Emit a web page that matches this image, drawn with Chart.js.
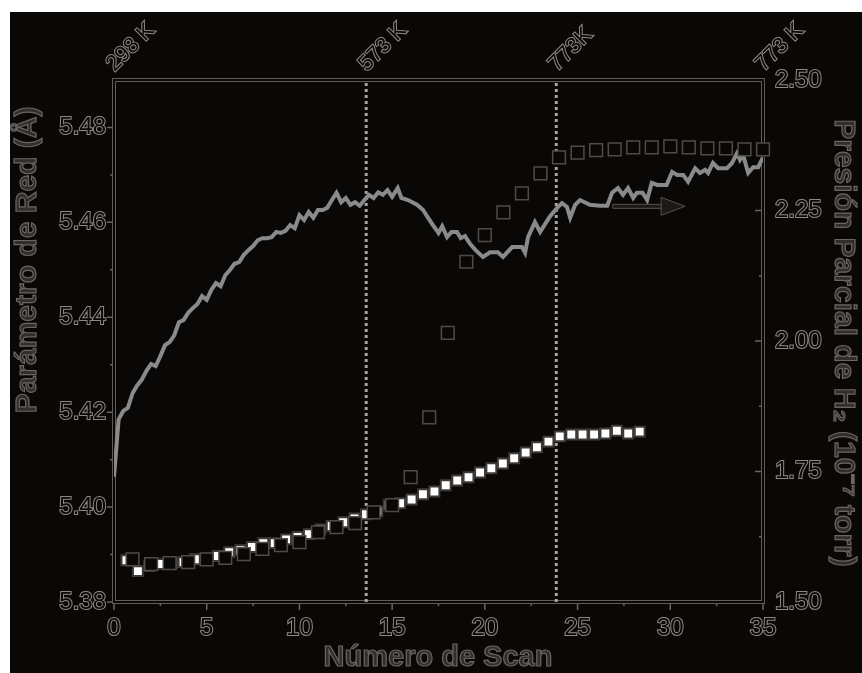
<!DOCTYPE html>
<html>
<head>
<meta charset="utf-8">
<script src="https://cdn.jsdelivr.net/npm/chart.js@4/dist/chart.umd.min.js"></script>
<style>
  html, body { margin: 0; padding: 0; background: #ffffff; }
  #marco { position: absolute; left: 10px; top: 12px; width: 852px; height: 661px; background: #0a0806; }
  #grafico { display: block; }
</style>
</head>
<body>
<div id="marco"><canvas id="grafico" width="852" height="661"></canvas></div>
<script>
// presión parcial de H2 (eje derecho), registro continuo
const scanLinea = [0, 0.25, 0.5, 0.75, 1, 1.25, 1.5, 1.75, 2, 2.25, 2.5, 2.75, 3, 3.25, 3.5, 3.75, 4, 4.25, 4.5, 4.75,
  5, 5.25, 5.5, 5.75, 6, 6.25, 6.5, 6.75, 7, 7.25, 7.5, 7.75, 8, 8.25, 8.5, 8.75, 9, 9.25, 9.5, 9.75,
  10, 10.25, 10.5, 10.75, 11, 11.25, 11.5, 11.75, 12, 12.25, 12.5, 12.75, 13, 13.25, 13.5, 13.75, 14, 14.25, 14.5, 14.75,
  15, 15.3, 15.5, 15.86, 16.34, 16.67, 16.94, 17.2, 17.5, 17.7, 17.96, 18.2, 18.5, 18.7, 18.93, 19.2, 19.5, 19.9,
  20.28, 20.7, 20.98, 21.47, 22.0, 22.17, 22.33, 22.7, 22.98, 23.5, 23.9, 24.16, 24.43, 24.6, 24.87, 25.13, 25.67,
  26.2, 26.6, 26.86, 27.18, 27.45, 27.72, 28.0, 28.2, 28.5, 28.75, 29.0, 29.3, 29.8, 30.1, 30.37, 30.7, 30.96,
  31.34, 31.6, 31.88, 32.04, 32.3, 32.58, 33.06, 33.33, 33.6, 33.76, 33.93, 34.2, 34.47, 34.74, 35];
const presionH2 = [1.740, 1.850, 1.866, 1.872, 1.900, 1.915, 1.926, 1.943, 1.956, 1.952, 1.971, 1.992, 1.998, 2.011, 2.036, 2.040, 2.054, 2.063, 2.071, 2.086,
  2.079, 2.098, 2.111, 2.105, 2.126, 2.136, 2.148, 2.151, 2.165, 2.174, 2.182, 2.193, 2.197, 2.197, 2.199, 2.209, 2.207, 2.211, 2.222, 2.216,
  2.241, 2.232, 2.247, 2.236, 2.251, 2.251, 2.255, 2.270, 2.284, 2.266, 2.274, 2.261, 2.266, 2.259, 2.270, 2.280, 2.274, 2.285, 2.280, 2.289,
  2.276, 2.293, 2.274, 2.270, 2.261, 2.251, 2.236, 2.222, 2.207, 2.220, 2.199, 2.209, 2.209, 2.197, 2.201, 2.186, 2.174, 2.161,
  2.170, 2.170, 2.161, 2.180, 2.180, 2.169, 2.199, 2.228, 2.209, 2.238, 2.255, 2.264, 2.257, 2.236, 2.261, 2.270, 2.261,
  2.259, 2.259, 2.284, 2.293, 2.280, 2.293, 2.274, 2.284, 2.284, 2.270, 2.303, 2.299, 2.299, 2.324, 2.318, 2.318, 2.305,
  2.331, 2.322, 2.328, 2.322, 2.341, 2.331, 2.331, 2.341, 2.360, 2.347, 2.356, 2.322, 2.333, 2.333, 2.352];

// parámetro de red, cuadros abiertos
const scanAbierto = [1, 2, 3, 4, 5, 6, 7, 8, 9, 10, 11, 12, 13, 14, 15, 16, 17, 18, 19, 20, 21, 22, 23, 24, 25,
  26, 27, 28, 29, 30, 31, 32, 33, 34, 35];
const redAbierto = [5.3890, 5.3880, 5.3882, 5.3884, 5.3890, 5.3893, 5.3901, 5.3912, 5.3920, 5.3926, 5.3947, 5.3958, 5.3966, 5.3989, 5.4004,
  5.4063, 5.4189, 5.4367, 5.4517, 5.4573, 5.4621, 5.4661, 5.4703, 5.4737, 5.4747,
  5.4752, 5.4754, 5.4758, 5.4758, 5.4760, 5.4758, 5.4756, 5.4756, 5.4754, 5.4754];

// parámetro de red, cuadros llenos
const scanLleno = [0.67, 1.29, 1.90, 2.52, 3.13, 3.75, 4.36, 4.98, 5.59, 6.21, 6.82, 7.44, 8.05, 8.67, 9.28, 9.90,
  10.51, 11.13, 11.74, 12.36, 12.97, 13.59, 14.20, 14.82, 15.43, 16.05, 16.66, 17.28, 17.89, 18.51, 19.12, 19.74,
  20.35, 20.97, 21.58, 22.20, 22.81, 23.43, 24.04, 24.66, 25.27, 25.89, 26.50, 27.12, 27.73, 28.35];
const redLleno = [5.3888, 5.3865, 5.3876, 5.3880, 5.3882, 5.3884, 5.3890, 5.3892, 5.3897, 5.3905, 5.3909, 5.3916, 5.3924, 5.3924, 5.3932, 5.3937,
  5.3943, 5.3953, 5.3960, 5.3968, 5.3976, 5.3985, 5.3991, 5.4004, 5.4008, 5.4016, 5.4027, 5.4033, 5.4046, 5.4056, 5.4063, 5.4073,
  5.4082, 5.4092, 5.4103, 5.4115, 5.4126, 5.4138, 5.4149, 5.4153, 5.4153, 5.4153, 5.4155, 5.4161, 5.4155, 5.4159];

const scanTicks = [0, 5, 10, 15, 20, 25, 30, 35];
const redTicks = [5.38, 5.40, 5.42, 5.44, 5.46, 5.48];
const presionTicks = [1.50, 1.75, 2.00, 2.25, 2.50];
const tempPos = [0, 13.6, 23.85, 35];
const tempLabels = ['298 K', '573 K', '773K', '773 K'];
const cambiosT = [13.6, 23.85];
const flecha = { desde: 26.9, hasta: 30.8, nivel: 2.258 };

const fondo = '#0a0806';
const fuenteTick = { family: '"Liberation Sans", Arial, sans-serif', size: 24 };

const pts = (xs, ys) => xs.map((x, i) => ({ x: x, y: ys[i] }));
const medios = (arr) => arr.slice(1).map((v, i) => (v + arr[i]) / 2);

const tickOpts = {
  font: fuenteTick,
  color: fondo,
  textStrokeColor: '#8e8984',
  textStrokeWidth: 2,
  autoSkip: false,
  maxRotation: 0,
  minRotation: 0
};

// marco, marcas y títulos con trazo de contorno
const contorno = {
  id: 'contorno',
  beforeDatasetsDraw(chart) {
    const { ctx, chartArea: a, scales } = chart;
    ctx.save();
    ctx.strokeStyle = '#6a6560';
    ctx.lineWidth = 1.5;
    ctx.beginPath();
    scanTicks.forEach(v => { const p = scales.x.getPixelForValue(v); ctx.moveTo(p, a.bottom); ctx.lineTo(p, a.bottom + 8); });
    medios(scanTicks).forEach(v => { const p = scales.x.getPixelForValue(v); ctx.moveTo(p, a.bottom); ctx.lineTo(p, a.bottom + 4); });
    redTicks.forEach(v => { const p = scales.y.getPixelForValue(v); ctx.moveTo(a.left, p); ctx.lineTo(a.left - 7, p); });
    medios(redTicks).forEach(v => { const p = scales.y.getPixelForValue(v); ctx.moveTo(a.left, p); ctx.lineTo(a.left - 4, p); });
    presionTicks.forEach(v => { const p = scales.y2.getPixelForValue(v); ctx.moveTo(a.right, p); ctx.lineTo(a.right - 8, p); });
    medios(presionTicks).forEach(v => { const p = scales.y2.getPixelForValue(v); ctx.moveTo(a.right, p); ctx.lineTo(a.right - 4, p); });
    ctx.stroke();
    ctx.lineWidth = 4;
    ctx.strokeStyle = '#625d58';
    ctx.strokeRect(a.left, a.top, a.right - a.left, a.bottom - a.top);
    ctx.lineWidth = 2;
    ctx.strokeStyle = fondo;
    ctx.strokeRect(a.left, a.top, a.right - a.left, a.bottom - a.top);
    ctx.restore();
  },
  afterDraw(chart) {
    const { ctx, scales } = chart;
    ctx.save();
    // flecha hacia el eje derecho
    const x0 = scales.x.getPixelForValue(flecha.desde);
    const x1 = scales.x.getPixelForValue(flecha.hasta);
    const yf = scales.y2.getPixelForValue(flecha.nivel);
    ctx.lineWidth = 1;
    ctx.strokeStyle = '#57524e';
    ctx.fillStyle = '#1c1917';
    ctx.beginPath();
    ctx.rect(x0, yf - 2, x1 - 22 - x0, 4);
    ctx.fill();
    ctx.stroke();
    ctx.beginPath();
    ctx.moveTo(x1 - 24, yf - 9);
    ctx.lineTo(x1, yf);
    ctx.lineTo(x1 - 24, yf + 9);
    ctx.closePath();
    ctx.fill();
    ctx.stroke();

    ctx.fillStyle = '#332e2b';
    ctx.strokeStyle = '#6c6661';
    ctx.lineWidth = 1.2;
    ctx.textAlign = 'center';
    ctx.textBaseline = 'middle';
    const titulo = (txt, x, y, rot, size) => {
      ctx.save();
      ctx.font = 'bold ' + size + 'px "Liberation Sans", Arial, sans-serif';
      ctx.translate(x, y);
      ctx.rotate(rot);
      ctx.fillText(txt, 0, 0);
      ctx.strokeText(txt, 0, 0);
      ctx.restore();
    };
    titulo('Número de Scan', 428, 646, 0, 29);
    titulo('Parámetro de Red (Å)', 18, 248, -Math.PI / 2, 30);
    titulo('Presión Parcial de H₂ (10⁻⁷ torr)', 833, 331, Math.PI / 2, 30);
    ctx.restore();
  }
};

const datasets = [
  {
    label: 'abiertos',
    data: pts(scanAbierto, redAbierto),
    yAxisID: 'y',
    showLine: false,
    pointStyle: 'rect',
    pointRadius: 9,
    pointBackgroundColor: fondo,
    pointBorderColor: '#4f4b48',
    pointBorderWidth: 1.5,
    clip: false
  },
  {
    label: 'llenos',
    data: pts(scanLleno, redLleno),
    yAxisID: 'y',
    showLine: false,
    pointStyle: 'rect',
    pointRadius: 7,
    pointBackgroundColor: '#ffffff',
    pointBorderColor: '#3e3a37',
    pointBorderWidth: 2,
    clip: false
  },
  {
    type: 'line',
    label: 'H2',
    data: pts(scanLinea, presionH2),
    yAxisID: 'y2',
    borderColor: '#8a8a8a',
    borderWidth: 4,
    pointRadius: 0,
    tension: 0,
    borderJoinStyle: 'miter'
  }
];

cambiosT.forEach(t => {
  datasets.push({
    type: 'line',
    label: 'T',
    data: [{ x: t, y: 5.38 }, { x: t, y: 5.49 }],
    yAxisID: 'y',
    borderColor: '#a8a4a0',
    borderWidth: 3,
    borderDash: [3, 3],
    pointRadius: 0
  });
});

new Chart(document.getElementById('grafico'), {
  type: 'scatter',
  data: { datasets: datasets },
  options: {
    responsive: false,
    animation: false,
    devicePixelRatio: 1,
    layout: { padding: 0 },
    plugins: { legend: { display: false }, tooltip: { enabled: false } },
    scales: {
      x: {
        type: 'linear', position: 'bottom', min: 0, max: 35,
        afterBuildTicks: s => { s.ticks = scanTicks.map(v => ({ value: v })); },
        afterFit: s => { s.height = 71; },
        grid: { display: false, drawTicks: true, tickLength: 8 },
        border: { display: false },
        ticks: Object.assign({}, tickOpts, { padding: 4 })
      },
      xTop: {
        type: 'linear', position: 'top', min: 0, max: 35,
        afterBuildTicks: s => { s.ticks = tempPos.map(v => ({ value: v })); },
        afterFit: s => { s.height = 68; },
        grid: { display: false, drawTicks: false },
        border: { display: false },
        ticks: Object.assign({}, tickOpts, {
          font: { family: fuenteTick.family, size: 22 },
          minRotation: 45, maxRotation: 45, padding: 3, labelOffset: 15,
          callback: (v, i) => tempLabels[i]
        })
      },
      y: {
        type: 'linear', position: 'left', min: 5.38, max: 5.49,
        afterBuildTicks: s => { s.ticks = redTicks.map(v => ({ value: v })); },
        afterFit: s => { s.width = 104; },
        grid: { display: false, drawTicks: true, tickLength: 7 },
        border: { display: false },
        ticks: Object.assign({}, tickOpts, { padding: 1, callback: v => v.toFixed(2) })
      },
      y2: {
        type: 'linear', position: 'right', min: 1.5, max: 2.5,
        afterBuildTicks: s => { s.ticks = presionTicks.map(v => ({ value: v })); },
        afterFit: s => { s.width = 99; },
        grid: { display: false, drawTicks: true, tickLength: 4 },
        border: { display: false },
        ticks: Object.assign({}, tickOpts, { padding: 8, callback: v => v.toFixed(2) })
      }
    }
  },
  plugins: [contorno]
});
</script>
</body>
</html>
